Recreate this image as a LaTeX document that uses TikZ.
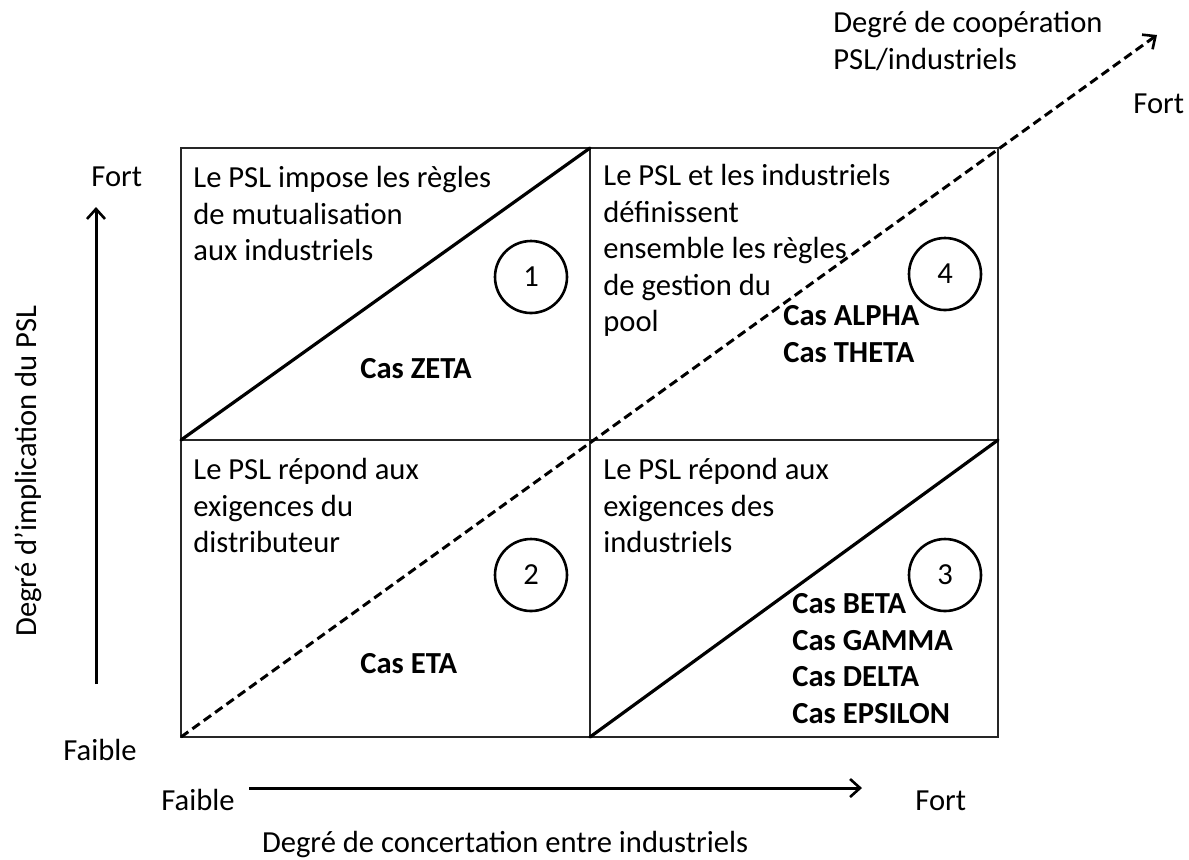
\documentclass[tikz,border=0pt]{standalone}
\usepackage{fontspec}
\setmainfont{Carlito}
\usetikzlibrary{arrows.meta}
\newcommand{\myfont}{\fontsize{15.3}{18.3}\selectfont}
\tikzset{
  txt/.style={anchor=north west, inner sep=0pt, align=left, font=\myfont},
  btxt/.style={txt, font=\myfont\bfseries},
  lbl/.style={anchor=base west, inner sep=0pt, font=\myfont},
  blbl/.style={lbl, font=\myfont\bfseries},
  grid/.style={draw=black!85, line width=1pt},
  diag/.style={line width=1.6pt, line cap=round},
  dashdiag/.style={line width=1.5pt, dash pattern=on 4.5pt off 2.5pt},
  axis/.style={line width=1.5pt, -{Straight Barb[length=5pt,width=9pt,line width=1.3pt]}},
  num/.style={circle, draw, line width=1.3pt, minimum size=36pt, inner sep=0pt, font=\myfont},
}
\begin{document}
\begin{tikzpicture}[x=0.5pt, y=-0.5pt]
\useasboundingbox (0,0) rectangle (1189,859);
% grid
\coordinate (g00) at (181,148);
\coordinate (g10) at (590,148);
\coordinate (g20) at (998,148);
\coordinate (g01) at (181,440);
\coordinate (g11) at (590,440);
\coordinate (g21) at (998,440);
\coordinate (g02) at (181,737);
\coordinate (g12) at (590,737);
\coordinate (g22) at (998,737);
\coordinate (dtip) at (1157,35);
\draw[grid] (g00) rectangle (g22);
\draw[grid] (g10) -- (g12);
\draw[grid] (g01) -- (g21);
% diagonals
\draw[diag] (g01) -- (g10);
\draw[diag] (g12) -- (g21);
\draw[dashdiag, -{Straight Barb[length=5pt,width=9pt,line width=1.3pt]}] (g02) -- (dtip);
% circles
\node[num] (c1) at (531,277) {\raisebox{-2pt}{1}};
\node[num] (c4) at (945,274) {\raisebox{-2pt}{4}};
\node[num] (c2) at (531,575) {\raisebox{-2pt}{2}};
\node[num] (c3) at (945,575) {\raisebox{-2pt}{3}};
% cell texts
\node[txt] (t1) at (193,161.4) {\strut Le PSL impose les règles\\de mutualisation\\aux industriels};
\node[txt] (t4) at (603,159.4) {\strut Le PSL et les industriels\\définissent\\ensemble les règles\\de gestion du\\pool};
\node[txt] (t2) at (193,453.4) {\strut Le PSL répond aux\\exigences du\\distributeur};
\node[txt] (t3) at (603,453.4) {\strut Le PSL répond aux\\exigences des\\industriels};
\node[blbl] (z) at (360,378) {Cas ZETA};
\node[blbl] (e) at (360,673) {Cas ETA};
\node[btxt] (ab) at (783,299.4) {\strut Cas ALPHA\\Cas THETA};
\node[btxt] (bg) at (792,587.4) {\strut Cas BETA\\Cas GAMMA\\Cas DELTA\\Cas EPSILON};
% axes
\coordinate (ya) at (96,684);
\coordinate (yb) at (96,207);
\coordinate (xa) at (249,788);
\coordinate (xb) at (862,788);
\draw[axis] (ya) -- (yb);
\draw[axis] (xa) -- (xb);
\node[lbl] (fy) at (91,186) {Fort};
\node[lbl] (fay) at (63,760) {Faible};
\node[lbl] (fax) at (161,810) {Faible};
\node[lbl] (fx) at (915,810) {Fort};
\node[lbl] (fd) at (1133,113) {Fort};
\node[txt] (dc) at (833,6.4) {\strut Degré de coopération\\PSL/industriels};
\node[lbl, anchor=base] (xl) at (505,852) {Degré de concertation entre industriels};
\node[lbl, anchor=base, rotate=90] (yl) at (36,471) {Degré d’implication du PSL};
\end{tikzpicture}
\end{document}
